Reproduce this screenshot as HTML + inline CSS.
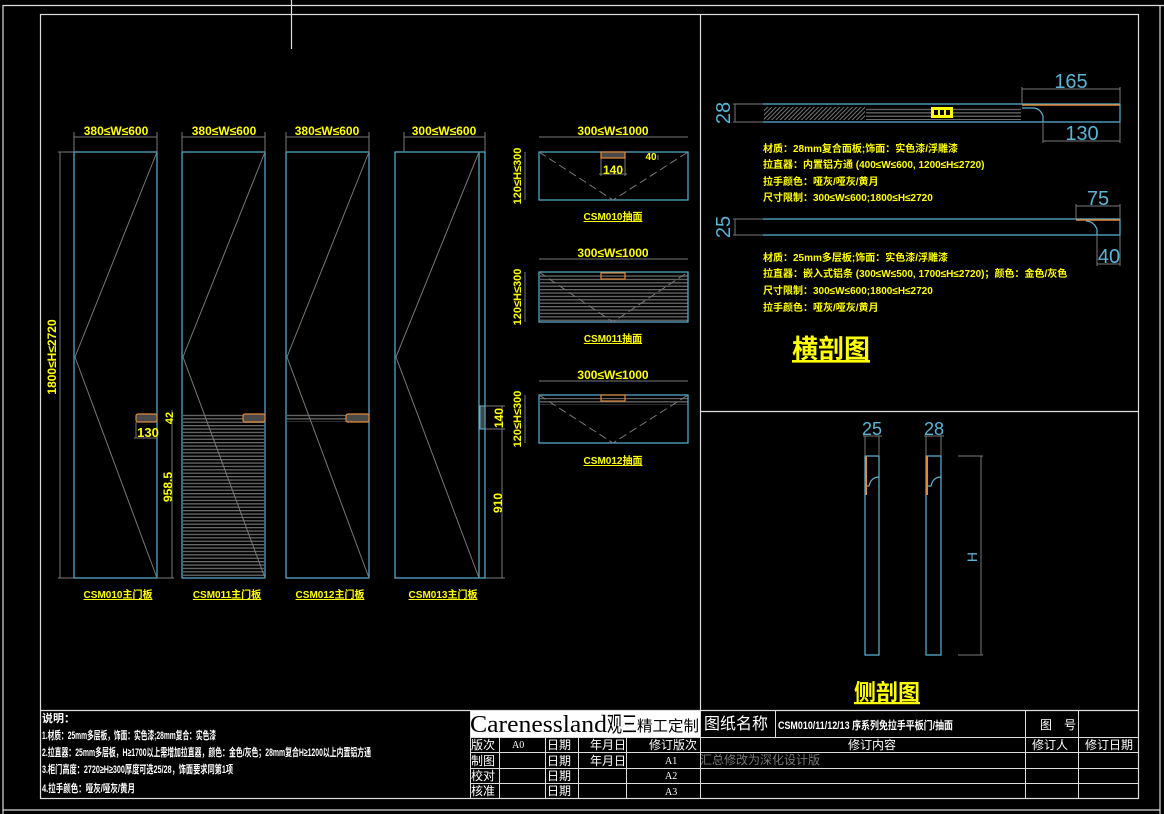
<!DOCTYPE html>
<html><head><meta charset="utf-8"><style>
html,body{margin:0;padding:0;background:#000;width:1164px;height:814px;overflow:hidden}
svg{display:block}
.y{fill:#ff0;font-family:"Liberation Sans Narrow","Liberation Sans","Noto Sans CJK SC",sans-serif;font-weight:bold}
.w{fill:#fff;font-family:"Liberation Sans","Noto Sans CJK SC",sans-serif}
.b{fill:#5ab4d6;font-family:"Liberation Sans Narrow","Liberation Sans",sans-serif}
</style></head><body>
<svg width="1164" height="814" viewBox="0 0 1164 814" xmlns="http://www.w3.org/2000/svg">
<defs>
<pattern id="hl" width="6" height="3.4" patternUnits="userSpaceOnUse"><rect width="6" height="1.3" fill="#6a6a6a"/></pattern>
<pattern id="hx" width="3" height="3" patternUnits="userSpaceOnUse" patternTransform="rotate(45)"><rect width="1" height="3" fill="#777"/></pattern>
</defs>
<g fill="none" stroke="#ddd" stroke-width="1.2">
<polyline points="3,814 3,5.5 1164,5.5"/>
<line x1="1160" y1="5" x2="1160" y2="814"/>
<rect x="40.5" y="14.5" width="1098" height="784"/>
<line x1="3" y1="810" x2="1160" y2="810"/>
<line x1="291.5" y1="0" x2="291.5" y2="49"/>
<line x1="700.5" y1="14" x2="700.5" y2="710"/>
<line x1="700" y1="411.5" x2="1138" y2="411.5"/>
<line x1="40" y1="710.5" x2="1138" y2="710.5"/>
</g>
<g stroke="#5ab4d6" stroke-width="1.2" fill="none">
<rect x="74" y="152" width="83" height="426"/>
<rect x="182" y="152" width="83" height="426"/>
<rect x="286" y="152" width="83" height="426"/>
<rect x="395" y="152" width="90" height="426"/>
<line x1="479" y1="152" x2="479" y2="578"/>
</g>
<rect x="183" y="414" width="81" height="163" fill="url(#hl)"/>
<rect x="287" y="414" width="81" height="8" fill="url(#hl)"/>
<g stroke="#777" stroke-width="1" fill="none">
<polyline points="157,152 75,357 157,578"/>
<polyline points="265,152 183,357 265,578"/>
<polyline points="369,152 287,357 369,578"/>
<polyline points="479,152 396,357 479,578"/>
<line x1="74" y1="137" x2="157" y2="137"/><line x1="74" y1="132" x2="74" y2="152"/><line x1="157" y1="132" x2="157" y2="152"/>
<line x1="182" y1="137" x2="265" y2="137"/><line x1="182" y1="132" x2="182" y2="152"/><line x1="265" y1="132" x2="265" y2="152"/>
<line x1="286" y1="137" x2="369" y2="137"/><line x1="286" y1="132" x2="286" y2="152"/><line x1="369" y1="132" x2="369" y2="152"/>
<line x1="404" y1="137" x2="485" y2="137"/><line x1="404" y1="132" x2="404" y2="152"/><line x1="485" y1="132" x2="485" y2="152"/>
<line x1="60" y1="152" x2="60" y2="578"/><line x1="58" y1="152" x2="74" y2="152"/><line x1="58" y1="578" x2="74" y2="578"/>
<line x1="172" y1="410" x2="172" y2="578"/><line x1="157" y1="578" x2="174" y2="578"/>
<line x1="136" y1="422" x2="136" y2="438"/><line x1="134" y1="438" x2="157" y2="438"/>
<line x1="502" y1="406" x2="502" y2="578"/><line x1="485" y1="578" x2="505" y2="578"/><line x1="485" y1="406" x2="505" y2="406"/><line x1="485" y1="429" x2="505" y2="429"/>
</g>
<g fill="#4a4a4a" stroke="#e08a3c" stroke-width="1.2">
<rect x="136" y="414" width="21" height="8" rx="2"/>
<rect x="243" y="414" width="22" height="8" rx="2"/>
<rect x="346" y="414" width="23" height="8" rx="2"/>
</g>
<rect x="480" y="406" width="5" height="23" fill="#444" stroke="#5ab4d6"/>
<g class="y" font-size="12" text-anchor="middle">
<text x="116" y="135">380≤W≤600</text>
<text x="224" y="135">380≤W≤600</text>
<text x="327" y="135">380≤W≤600</text>
<text x="444" y="135">300≤W≤600</text>
<text x="148" y="437" font-size="13">130</text>
<text transform="translate(56,357) rotate(-90)">1800≤H≤2720</text>
<text transform="translate(173,418) rotate(-90)" font-size="11">42</text>
<text transform="translate(172,487) rotate(-90)">958.5</text>
<text transform="translate(503,418) rotate(-90)">140</text>
<text transform="translate(502,503) rotate(-90)">910</text>
</g>
<g class="y" font-size="10" text-anchor="middle" text-decoration="underline">
<text x="118" y="598">CSM010主门板</text>
<text x="227" y="598">CSM011主门板</text>
<text x="330" y="598">CSM012主门板</text>
<text x="443" y="598">CSM013主门板</text>
</g>
<rect x="540" y="275" width="148" height="46" fill="url(#hl)"/>
<rect x="540" y="398" width="148" height="7" fill="url(#hl)"/>
<g stroke="#5ab4d6" stroke-width="1.2" fill="none">
<rect x="539" y="152" width="149" height="48"/>
<rect x="539" y="272" width="149" height="50"/>
<rect x="539" y="395" width="149" height="48"/>
</g>
<g stroke="#777" stroke-dasharray="8,4" fill="none">
<polyline points="539,152 613,200 688,152"/>
<polyline points="539,272 613,322 688,272"/>
<polyline points="539,395 613,443 688,395"/>
</g>
<g stroke="#777" fill="none">
<line x1="539" y1="137" x2="688" y2="137"/><line x1="539" y1="259" x2="688" y2="259"/><line x1="539" y1="381" x2="688" y2="381"/>
<line x1="525" y1="152" x2="525" y2="200"/><line x1="525" y1="272" x2="525" y2="322"/><line x1="525" y1="395" x2="525" y2="443"/>
<line x1="601" y1="157" x2="601" y2="176"/><line x1="625" y1="157" x2="625" y2="176"/><line x1="599" y1="174" x2="627" y2="174"/>
<line x1="658" y1="155" x2="658" y2="160"/>
</g>
<g fill="#4a4a4a" stroke="#e08a3c" stroke-width="1.2">
<rect x="601" y="152" width="24" height="6"/>
<rect x="601" y="273" width="24" height="6" fill="none"/>
<rect x="601" y="395" width="24" height="6" fill="none"/>
</g>
<g class="y" font-size="12" text-anchor="middle">
<text x="613" y="135">300≤W≤1000</text>
<text x="613" y="257">300≤W≤1000</text>
<text x="613" y="379">300≤W≤1000</text>
<text x="613" y="174" font-size="12">140</text>
<text x="651" y="160" font-size="10">40</text>
<text transform="translate(521,176) rotate(-90)" font-size="11">120≤H≤300</text>
<text transform="translate(521,297) rotate(-90)" font-size="11">120≤H≤300</text>
<text transform="translate(521,419) rotate(-90)" font-size="11">120≤H≤300</text>
</g>
<g class="y" font-size="10" text-anchor="middle" text-decoration="underline">
<text x="613" y="220">CSM010抽面</text>
<text x="613" y="342">CSM011抽面</text>
<text x="613" y="464">CSM012抽面</text>
</g>
<rect x="764" y="107" width="101" height="13" fill="url(#hx)"/>
<rect x="866" y="107" width="155" height="13" fill="url(#hl)"/>
<rect x="931" y="107" width="22" height="11" fill="#ff0"/>
<g fill="#000"><rect x="934" y="110" width="4" height="5"/><rect x="940" y="110" width="4" height="5"/><rect x="946" y="110" width="4" height="5"/></g>
<g stroke="#5ab4d6" stroke-width="1.2" fill="none">
<path d="M763,104 H1120 V122 H1043 V116 Q1040,108 1033,108 H1022 M1043,122 H763 Z"/>
<path d="M763,219 H1120 V235 H1097 V229 Q1093,221 1086,221 M1097,235 H763 Z"/>
</g>
<line x1="1022" y1="105" x2="1120" y2="105" stroke="#e08a3c" stroke-width="1.5"/>
<line x1="1076" y1="220" x2="1120" y2="220" stroke="#e08a3c" stroke-width="1.5"/>
<g stroke="#777" fill="none">
<line x1="1022" y1="89" x2="1120" y2="89"/><line x1="1022" y1="87" x2="1022" y2="104"/><line x1="1120" y1="87" x2="1120" y2="104"/>
<line x1="1043" y1="141" x2="1120" y2="141"/><line x1="1043" y1="122" x2="1043" y2="143"/><line x1="1120" y1="122" x2="1120" y2="143"/>
<line x1="735" y1="104" x2="735" y2="122"/><line x1="733" y1="104" x2="763" y2="104"/><line x1="733" y1="122" x2="763" y2="122"/>
<line x1="735" y1="219" x2="735" y2="235"/><line x1="733" y1="219" x2="763" y2="219"/><line x1="733" y1="235" x2="763" y2="235"/>
<line x1="1076" y1="206" x2="1120" y2="206"/><line x1="1076" y1="204" x2="1076" y2="219"/><line x1="1120" y1="204" x2="1120" y2="219"/>
<line x1="1097" y1="264" x2="1120" y2="264"/><line x1="1097" y1="235" x2="1097" y2="266"/><line x1="1120" y1="235" x2="1120" y2="266"/>
</g>
<g class="b" font-size="20" text-anchor="middle">
<text x="1071" y="88">165</text>
<text x="1082" y="140">130</text>
<text x="1098" y="205">75</text>
<text x="1109" y="263">40</text>
<text transform="translate(730,113) rotate(-90)">28</text>
<text transform="translate(730,227) rotate(-90)">25</text>
</g>
<g class="y" font-size="10">
<text x="763" y="152">材质：28mm复合面板;饰面：实色漆/浮雕漆</text>
<text x="763" y="168">拉直器：内置铝方通 (400≤W≤600, 1200≤H≤2720)</text>
<text x="763" y="185">拉手颜色：哑灰/哑灰/黄月</text>
<text x="763" y="201">尺寸限制：300≤W≤600;1800≤H≤2720</text>
<text x="763" y="261">材质：25mm多层板;饰面：实色漆/浮雕漆</text>
<text x="763" y="277">拉直器：嵌入式铝条 (300≤W≤500, 1700≤H≤2720)；颜色：金色/灰色</text>
<text x="763" y="294">尺寸限制：300≤W≤600;1800≤H≤2720</text>
<text x="763" y="311">拉手颜色：哑灰/哑灰/黄月</text>
</g>
<text x="831" y="358" class="y" font-size="26" text-anchor="middle" text-decoration="underline">横剖图</text>
<g stroke="#5ab4d6" stroke-width="1.2" fill="none">
<path d="M865,456 H879 V477 Q871,477 869,486 H865 Z M865,456 V655 H879 V477"/>
<path d="M926,456 H941 V477 Q933,477 931,486 H926 Z M926,456 V655 H941 V477"/>
</g>
<line x1="866" y1="456" x2="866" y2="495" stroke="#e08a3c" stroke-width="2"/>
<line x1="927" y1="456" x2="927" y2="495" stroke="#e08a3c" stroke-width="2"/>
<g stroke="#777" fill="none">
<line x1="863" y1="436" x2="882" y2="436"/><line x1="865" y1="436" x2="865" y2="456"/><line x1="879" y1="436" x2="879" y2="456"/>
<line x1="924" y1="436" x2="944" y2="436"/><line x1="926" y1="436" x2="926" y2="456"/><line x1="941" y1="436" x2="941" y2="456"/>
<line x1="958" y1="456" x2="983" y2="456"/><line x1="958" y1="655" x2="983" y2="655"/><line x1="981" y1="456" x2="981" y2="655"/>
</g>
<g class="b" font-size="18" text-anchor="middle">
<text x="872" y="435">25</text>
<text x="934" y="435">28</text>
<text transform="translate(977,557) rotate(-90)" font-size="14">H</text>
</g>
<text x="887" y="700" class="y" font-size="22" text-anchor="middle" text-decoration="underline">侧剖图</text>
<g class="w" font-size="11" font-weight="bold">
<text x="42" y="722">说明：</text>
<text x="42" y="739" textLength="174" lengthAdjust="spacingAndGlyphs">1.材质：25mm多层板，饰面：实色漆;28mm复合：实色漆</text>
<text x="42" y="756" textLength="329" lengthAdjust="spacingAndGlyphs">2.拉直器：25mm多层板，H≥1700以上需增加拉直器，颜色：金色/灰色；28mm复合H≥1200以上内置铝方通</text>
<text x="42" y="773" textLength="191" lengthAdjust="spacingAndGlyphs">3.柜门高度：2720≥H≥300厚度可选25/28，饰面要求同第1项</text>
<text x="42" y="792" textLength="93" lengthAdjust="spacingAndGlyphs">4.拉手颜色：哑灰/哑灰/黄月</text>
</g>
<rect x="470" y="711" width="230" height="26" fill="#fff"/>
<text x="470" y="732" font-family="Liberation Serif,serif" font-size="24" fill="#000" textLength="137" lengthAdjust="spacingAndGlyphs">Carenessland</text>
<text x="607" y="732" font-family="Noto Sans CJK SC,sans-serif" font-size="22" fill="#000" textLength="30" lengthAdjust="spacingAndGlyphs">观三</text>
<text x="637" y="731" font-family="Noto Sans CJK SC,sans-serif" font-size="15" fill="#000" textLength="62" lengthAdjust="spacingAndGlyphs">精工定制</text>
<g stroke="#ddd" stroke-width="1" fill="none">
<line x1="470.5" y1="711" x2="470.5" y2="798"/>
<line x1="470" y1="737.5" x2="1138" y2="737.5"/>
<line x1="470" y1="752.5" x2="1138" y2="752.5"/>
<line x1="470" y1="768.5" x2="1138" y2="768.5"/>
<line x1="470" y1="783.5" x2="1138" y2="783.5"/>
<line x1="499.5" y1="737" x2="499.5" y2="798"/>
<line x1="545.5" y1="737" x2="545.5" y2="798"/>
<line x1="578.5" y1="737" x2="578.5" y2="798"/>
<line x1="626.5" y1="737" x2="626.5" y2="798"/>
<line x1="700.5" y1="710" x2="700.5" y2="798"/>
<line x1="775.5" y1="711" x2="775.5" y2="737"/>
<line x1="1025.5" y1="711" x2="1025.5" y2="798"/>
<line x1="1078.5" y1="711" x2="1078.5" y2="798"/>
</g>
<g class="w" font-size="12">
<text x="704" y="729" font-size="16">图纸名称</text>
<text x="1040" y="729">图　号</text>
<text x="471" y="749">版次</text><text x="471" y="765">制图</text><text x="471" y="780">校对</text><text x="471" y="795">核准</text>
<text x="547" y="749">日期</text><text x="547" y="765">日期</text><text x="547" y="780">日期</text><text x="547" y="795">日期</text>
<text x="590" y="749">年月日</text><text x="590" y="765">年月日</text>
<text x="649" y="749">修订版次</text>
<text x="848" y="749">修订内容</text>
<text x="1032" y="749">修订人</text>
<text x="1085" y="749">修订日期</text>
<text x="512" y="748" font-size="10" font-family="Liberation Serif,serif">A0</text>
<text x="665" y="764" font-size="10" font-family="Liberation Serif,serif">A1</text>
<text x="665" y="779" font-size="10" font-family="Liberation Serif,serif">A2</text>
<text x="665" y="795" font-size="10" font-family="Liberation Serif,serif">A3</text>
<text x="778" y="729" font-size="11" font-weight="bold" textLength="175" lengthAdjust="spacingAndGlyphs">CSM010/11/12/13  序系列免拉手平板门/抽面</text>
</g>
<text x="700" y="764" font-size="12" fill="#777" font-family="Noto Sans CJK SC,sans-serif">汇总修改为深化设计版</text>
</svg>
</body></html>
